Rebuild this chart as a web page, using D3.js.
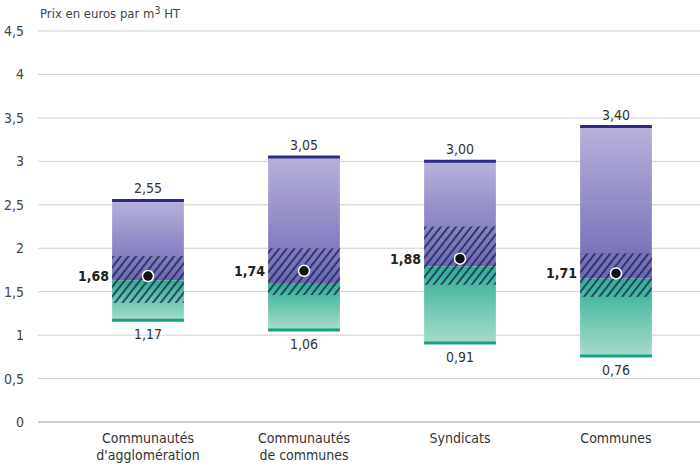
<!DOCTYPE html>
<html>
<head>
<meta charset="utf-8">
<script src="https://cdn.jsdelivr.net/npm/d3@7"></script>
<style>
  body { margin: 0; background: #fff; }
  text { font-family: "Liberation Sans Narrow", "DejaVu Sans Condensed", "Roboto", sans-serif; }
</style>
</head>
<body>
<div class="chart"></div>
<script>
// data
var categories = [["Communautés", "d'agglomération"], ["Communautés", "de communes"], ["Syndicats"], ["Communes"]];
var maxPrice = [2.55, 3.05, 3.00, 3.40];
var minPrice = [1.17, 1.06, 0.91, 0.76];
var meanPrice = [1.68, 1.74, 1.88, 1.71];
var medianPrice = [1.63, 1.60, 1.79, 1.65];
var hatchLow = [1.37, 1.46, 1.58, 1.44];
var hatchHigh = [1.91, 2.00, 2.25, 1.94];
var yTicks = [0, 0.5, 1, 1.5, 2, 2.5, 3, 3.5, 4, 4.5];

var svgWidth = 700;
var svgHeight = 466;

var svg = d3.select(".chart")
  .append("svg")
  .attr("width", svgWidth)
  .attr("height", svgHeight);

var fmt = v => d3.format(".2f")(v).replace(".", ",");

var data = categories.map((c, i) => ({
  key: i,
  label: c,
  max: maxPrice[i],
  min: minPrice[i],
  mean: meanPrice[i],
  median: medianPrice[i],
  lo: hatchLow[i],
  hi: hatchHigh[i]
}));

var x = d3.scaleBand()
  .domain(data.map(d => d.key))
  .range([70, 694])
  .paddingInner(0.54)
  .paddingOuter(0.27);

var y = d3.scaleLinear()
  .domain([0, 4.5])
  .range([422, 31]);

// defs: gradients + hatch
var defs = svg.append("defs");
var gp = defs.append("linearGradient").attr("id", "gPurple")
  .attr("x1", 0).attr("y1", 0).attr("x2", 0).attr("y2", 1);
gp.append("stop").attr("offset", "0%").attr("stop-color", "#b7b2da");
gp.append("stop").attr("offset", "100%").attr("stop-color", "#6e66b6");
var gt = defs.append("linearGradient").attr("id", "gTeal")
  .attr("x1", 0).attr("y1", 0).attr("x2", 0).attr("y2", 1);
gt.append("stop").attr("offset", "0%").attr("stop-color", "#2fae93");
gt.append("stop").attr("offset", "100%").attr("stop-color", "#a6dccb");

var pat = defs.append("pattern").attr("id", "hatch")
  .attr("patternUnits", "userSpaceOnUse")
  .attr("width", 6).attr("height", 6)
  .attr("patternTransform", "rotate(38)");
pat.append("line")
  .attr("x1", 1).attr("y1", 0).attr("x2", 1).attr("y2", 6)
  .attr("stroke", "#18254f").attr("stroke-width", 1.7);

// grid + y labels
var grid = svg.append("g");
grid.selectAll("line")
  .data(yTicks)
  .enter()
  .append("line")
  .attr("x1", 38).attr("x2", 700)
  .attr("y1", d => y(d)).attr("y2", d => y(d))
  .attr("stroke", d => d === 0 ? "#9a9a9a" : "#cfcfcf")
  .attr("stroke-width", 1);

grid.selectAll("text")
  .data(yTicks)
  .enter()
  .append("text")
  .attr("x", 24)
  .attr("y", d => y(d) + 5)
  .attr("text-anchor", "end")
  .attr("font-size", 14)
  .attr("fill", "#444")
  .text(d => d === 0 ? "0" : String(d).replace(".", ","));

// unit title
var title = svg.append("text")
  .attr("x", 40).attr("y", 18)
  .attr("font-size", 13)
  .attr("fill", "#444");
title.append("tspan").text("Prix en euros par m");
title.append("tspan").attr("dy", -4).attr("font-size", 10.5).text("3");
title.append("tspan").attr("dy", 4).text(" HT");

var bw = x.bandwidth();

var bars = svg.selectAll(".bar")
  .data(data)
  .enter()
  .append("g")
  .attr("class", "bar");

// purple part (median -> max)
bars.append("rect")
  .attr("x", d => x(d.key))
  .attr("width", bw)
  .attr("y", d => y(d.max))
  .attr("height", d => y(d.median) - y(d.max))
  .attr("fill", "url(#gPurple)");

// teal part (min -> median)
bars.append("rect")
  .attr("x", d => x(d.key))
  .attr("width", bw)
  .attr("y", d => y(d.median))
  .attr("height", d => y(d.min) - y(d.median))
  .attr("fill", "url(#gTeal)");

// hatched band
bars.append("rect")
  .attr("x", d => x(d.key))
  .attr("width", bw)
  .attr("y", d => y(d.hi))
  .attr("height", d => y(d.lo) - y(d.hi))
  .attr("fill", "url(#hatch)")
  .attr("opacity", 0.9);

// max / min edges
bars.append("line")
  .attr("x1", d => x(d.key)).attr("x2", d => x(d.key) + bw)
  .attr("y1", d => y(d.max)).attr("y2", d => y(d.max))
  .attr("stroke", "#2c2a86").attr("stroke-width", 3);
bars.append("line")
  .attr("x1", d => x(d.key)).attr("x2", d => x(d.key) + bw)
  .attr("y1", d => y(d.min)).attr("y2", d => y(d.min))
  .attr("stroke", "#16a084").attr("stroke-width", 3);

// mean dot
bars.append("circle")
  .attr("cx", d => x(d.key) + bw / 2)
  .attr("cy", d => y(d.mean))
  .attr("r", 5.5)
  .attr("fill", "#111")
  .attr("stroke", "#fff")
  .attr("stroke-width", 1.5);

// labels
bars.append("text")
  .attr("x", d => x(d.key) + bw / 2)
  .attr("y", d => y(d.max) - 7)
  .attr("text-anchor", "middle")
  .attr("font-size", 14)
  .attr("fill", "#333")
  .text(d => fmt(d.max));

bars.append("text")
  .attr("x", d => x(d.key) + bw / 2)
  .attr("y", d => y(d.min) + 19)
  .attr("text-anchor", "middle")
  .attr("font-size", 14)
  .attr("fill", "#333")
  .text(d => fmt(d.min));

bars.append("text")
  .attr("x", d => x(d.key) - 3)
  .attr("y", d => y(d.mean) + 5)
  .attr("text-anchor", "end")
  .attr("font-size", 14)
  .attr("font-weight", "bold")
  .attr("fill", "#222")
  .text(d => fmt(d.mean));

// category labels
var cat = bars.append("text")
  .attr("text-anchor", "middle")
  .attr("font-size", 14)
  .attr("fill", "#333");
cat.selectAll("tspan")
  .data(d => d.label.map(s => ({ s: s, cx: x(d.key) + bw / 2 })))
  .enter()
  .append("tspan")
  .attr("x", t => t.cx)
  .attr("y", (t, i) => 443 + i * 17)
  .text(t => t.s);
</script>
</body>
</html>
